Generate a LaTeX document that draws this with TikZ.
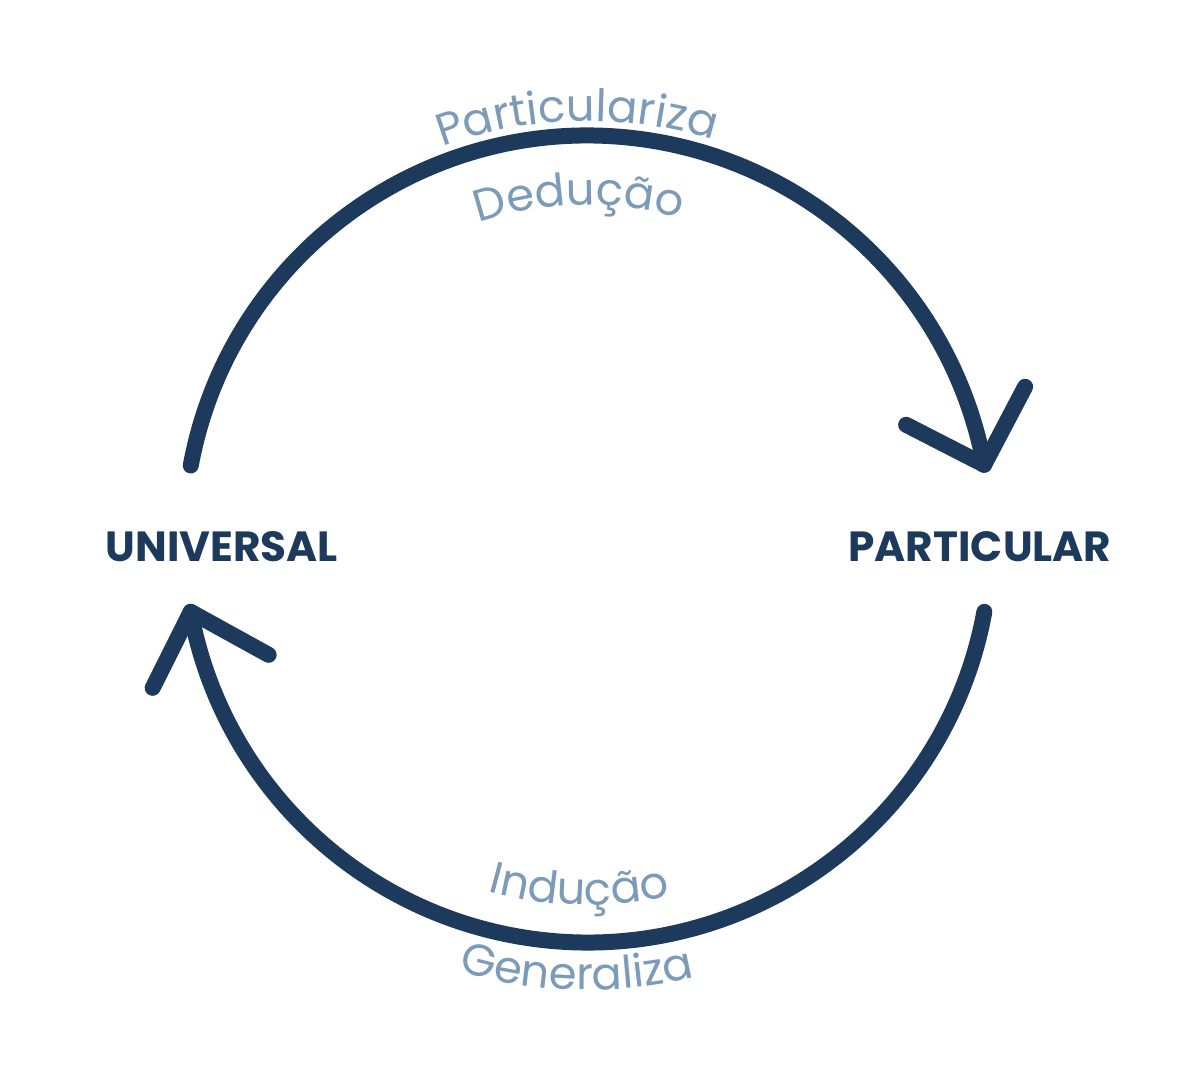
\documentclass[tikz,border=0pt]{standalone}
\usepackage{fontspec}
\setmainfont{Poppins}
\usepackage{xcolor}
\usepackage{tikz}
\usetikzlibrary{positioning}
\usetikzlibrary{calc}
\usetikzlibrary{decorations.text}

\definecolor{navy}{HTML}{1D3A5C}
\definecolor{lbl}{HTML}{7B9BB9}
\newcommand{\lblfont}{\fontsize{25.5pt}{27pt}\selectfont\color{lbl}}

\begin{document}
\begin{tikzpicture}[cycle/.style={draw=navy, line width=0.32cm, line cap=round, line join=round},
    pole/.style={text=navy, font=\fontsize{24pt}{26pt}\selectfont\bfseries, inner sep=0pt}]
    \useasboundingbox (0,0) rectangle (24,21.38);
    % Centre du cercle
    \coordinate (C) at (11.75,10.60);

    % Les deux poles
    \node (universal)  [pole] at (4.44,10.44) {UNIVERSAL};
    \node (particular) [pole] at (19.60,10.44) {PARTICULAR};

    % Arcs et pointes
    \draw[cycle] ($(C)+(169.5:8.07)$) arc[start angle=169.5, end angle=10.6, radius=8.07] coordinate (tipR);
    \draw[cycle] ($(tipR)+(-1.56,0.80)$) -- (tipR) -- ($(tipR)+(0.82,1.56)$);
    \draw[cycle] ($(C)+(-10.4:8.07)$) arc[start angle=-10.4, end angle=-169.6, radius=8.07] coordinate (tipL);
    \draw[cycle] ($(tipL)+(1.56,-0.86)$) -- (tipL) -- ($(tipL)+(-0.76,-1.52)$);

    % Etiquettes courbes
    \path[decorate, decoration={text along path, text align=center, text={|\lblfont|Particulariza}}]
        ($(C)+(181.4:8.36)$) arc[start angle=181.4, end angle=1.4, radius=8.36];
    \path[decorate, decoration={text along path, text align=center, text={|\lblfont|Dedução}}]
        ($(C)+(181.4:6.68)$) arc[start angle=181.4, end angle=1.4, radius=6.68];
    \path[decorate, decoration={text along path, text align=center, text={|\lblfont|Indução}}]
        ($(C)+(178.6:7.32)$) arc[start angle=178.6, end angle=358.6, radius=7.32];
    \path[decorate, decoration={text along path, text align=center, text={|\lblfont|Generaliza}}]
        ($(C)+(178.6:9.02)$) arc[start angle=178.6, end angle=358.6, radius=9.02];
\end{tikzpicture}
\end{document}
